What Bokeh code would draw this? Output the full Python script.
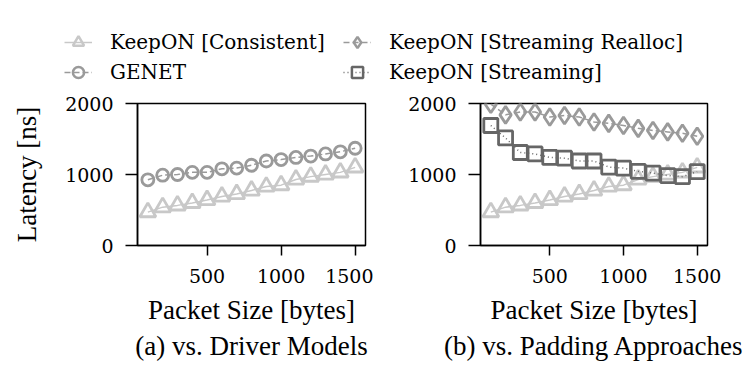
from bokeh.plotting import figure
from bokeh.layouts import column, row
from bokeh.models import Range1d, FixedTicker, Legend, LegendItem, Title
from bokeh.embed import file_html
from bokeh.resources import INLINE

# ---- data ----
packet_size = [100, 200, 300, 400, 500, 600, 700, 800, 900, 1000, 1100, 1200, 1300, 1400, 1500]
consistent = [470, 540, 565, 600, 640, 690, 725, 775, 830, 850, 930, 970, 1000, 1030, 1100]
genet = [925, 990, 1000, 1030, 1030, 1080, 1090, 1130, 1190, 1210, 1240, 1260, 1290, 1320, 1370]
realloc = [1990, 1840, 1880, 1880, 1810, 1830, 1810, 1740, 1720, 1690, 1650, 1620, 1600, 1580, 1540]
streaming = [1690, 1515, 1310, 1290, 1240, 1230, 1190, 1190, 1105, 1090, 1045, 1020, 985, 970, 1040]

x_ticks = [500, 1000, 1500]
y_ticks = [0, 1000, 2000]
x_label = "Packet Size [bytes]"
y_label = "Latency [ns]"
captions = ["(a) vs. Driver Models", "(b) vs. Padding Approaches"]

FONT = "Liberation Serif"
SVG_TEXT_FONT = "DejaVu Serif"

STYLES = {
    "KeepON [Consistent]": dict(color="#c8c8c8", marker="triangle", dash="solid", size=16),
    "GENET": dict(color="#9a9a9a", marker="circle", dash="6 3", size=12),
    "KeepON [Streaming Realloc]": dict(color="#9a9a9a", marker="diamond", dash="6 3", size=17),
    "KeepON [Streaming]": dict(color="#666666", marker="square", dash="1 3", size=14),
}


def add_series(p, name, ys, lw=2.8):
    st = STYLES[name]
    rl = p.line(packet_size, ys, line_color=st["color"], line_width=1.5, line_dash=st["dash"])
    rm = p.scatter(packet_size, ys, marker=st["marker"], size=st["size"], line_color=st["color"],
                   line_width=lw, fill_color=None)
    return rl, rm


def make_panel(series, caption, show_ylabel, left_border, right_border, fw):
    p = figure(frame_width=fw, frame_height=142,
               x_range=Range1d(30, 1570), y_range=Range1d(0, 2000),
               output_backend="svg", toolbar_location=None,
               min_border_left=left_border, min_border_right=right_border,
               min_border_top=15, min_border_bottom=131)
    p.grid.visible = False
    p.outline_line_color = "black"
    p.outline_line_width = 1.5
    p.background_fill_color = None
    p.border_fill_color = None
    for name, ys in series:
        add_series(p, name, ys)
    p.xaxis.ticker = FixedTicker(ticks=x_ticks)
    p.yaxis.ticker = FixedTicker(ticks=y_ticks)
    for ax in (p.xaxis[0], p.yaxis[0]):
        ax.axis_line_width = 1.5
        ax.major_tick_line_width = 1.5
        ax.major_tick_in = 0
        ax.minor_tick_line_color = None
        ax.major_label_text_font = SVG_TEXT_FONT
        ax.major_label_text_font_style = "normal"
        ax.major_label_text_font_size = "19px"
        ax.major_label_text_color = "black"
        ax.axis_label_text_font = FONT
        ax.axis_label_text_font_size = "27px"
        ax.axis_label_text_font_style = "normal"
        ax.axis_label_text_color = "black"
    p.yaxis.major_tick_out = 12
    p.xaxis.major_tick_out = 10
    p.yaxis.major_label_standoff = 12
    p.xaxis.major_label_standoff = 13
    p.xaxis.axis_label = x_label
    p.xaxis.axis_label_standoff = 9
    if show_ylabel:
        p.yaxis.axis_label = y_label
        p.yaxis.axis_label_standoff = 20
    t = Title(text=caption, align="center", text_font=FONT, text_font_size="27px",
              text_font_style="normal", text_color="black", standoff=2)
    p.add_layout(t, "below")
    return p


p1 = make_panel([("KeepON [Consistent]", consistent), ("GENET", genet)], captions[0], True, 137, 8, 228)
p2 = make_panel([("KeepON [Consistent]", consistent), ("KeepON [Streaming Realloc]", realloc),
                 ("KeepON [Streaming]", streaming)], captions[1], False, 107, 39, 227)

# ---- legend strip (renderers fall outside its visible ranges) ----
leg = figure(width=746, height=88, x_range=Range1d(0, 1), y_range=Range1d(0, 1),
             x_axis_type=None, y_axis_type=None, output_backend="svg", toolbar_location=None,
             min_border=0)
leg.outline_line_color = None
leg.background_fill_color = None
leg.border_fill_color = None
leg.grid.visible = False

series_data = {
    "KeepON [Consistent]": consistent,
    "GENET": genet,
    "KeepON [Streaming Realloc]": realloc,
    "KeepON [Streaming]": streaming,
}


def legend_item(name):
    rl, rm = add_series(leg, name, series_data[name], lw=2.5)
    return LegendItem(label=name, renderers=[rl, rm])


def make_legend(names, loc):
    lg = Legend(items=[legend_item(n) for n in names], location=loc, orientation="vertical",
                glyph_width=28, glyph_height=30, label_height=30, label_standoff=18, spacing=0,
                padding=0, margin=0, border_line_color=None, background_fill_alpha=0,
                label_text_font=SVG_TEXT_FONT, label_text_font_style="normal",
                label_text_font_size="20px", label_text_color="black")
    leg.add_layout(lg, "center")


make_legend(["KeepON [Consistent]", "GENET"], (64, 1))
make_legend(["KeepON [Streaming Realloc]", "KeepON [Streaming]"], (343, 1))

layout = column(leg, row(p1, p2))

with open("out.html", "w") as f:
    f.write(file_html(layout, INLINE))
